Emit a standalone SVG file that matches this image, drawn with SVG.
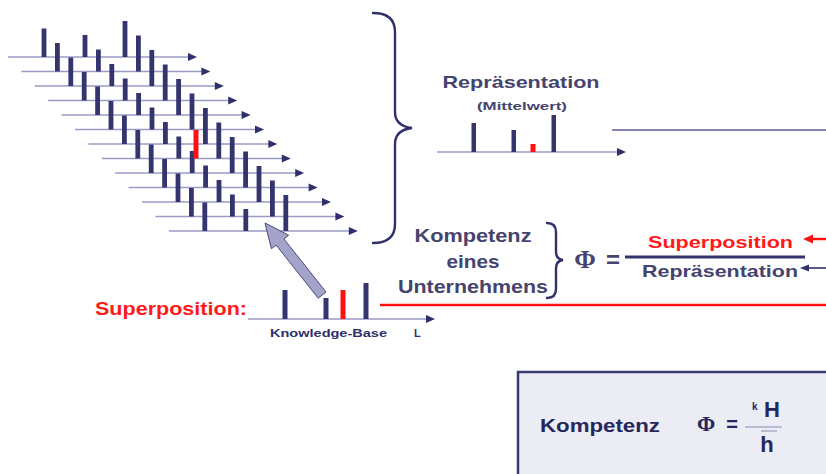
<svg xmlns="http://www.w3.org/2000/svg" xmlns:xlink="http://www.w3.org/1999/xlink" width="826" height="474" viewBox="0 0 826 474">
<style>
  text { font-family: "Liberation Sans", Arial, sans-serif; }
  .phi { font-family: "Liberation Serif", "Times New Roman", serif; }
  .axis { stroke: #9a9ac6; stroke-width: 1.6; fill: none; }
  .head { fill: #2f2f6c; }
  .bar { fill: #34346e; }
  .red { fill: #ff1010; }
  .brace { fill: none; stroke: #30306c; stroke-width: 2.4; stroke-linecap: round; }
  .lbl { fill: #44446e; font-weight: bold; }
  .rtxt { fill: #ff1a1a; font-weight: bold; }
  .navy { fill: #26265e; font-weight: bold; }
</style>
<defs>
  <g id="row">
    <line class="axis" x1="8" y1="57" x2="190" y2="57"/>
    <polygon class="head" points="188,53 197,57 188,61"/>
    <rect class="bar" x="41.6" y="28.5" width="4.8" height="28.5"/>
    <rect class="bar" x="82.6" y="35" width="4.8" height="22"/>
    <rect class="bar" x="122.6" y="21" width="4.8" height="36"/>
  </g>
</defs>

<g id="stack">
  <use xlink:href="#row" href="#row"/>
  <use xlink:href="#row" href="#row" transform="translate(13.4,14.5)"/>
  <use xlink:href="#row" href="#row" transform="translate(26.8,29)"/>
  <use xlink:href="#row" href="#row" transform="translate(40.2,43.5)"/>
  <use xlink:href="#row" href="#row" transform="translate(53.6,58)"/>
  <use xlink:href="#row" href="#row" transform="translate(67,72.5)"/>
  <use xlink:href="#row" href="#row" transform="translate(80.4,87)"/>
  <use xlink:href="#row" href="#row" transform="translate(93.8,101.5)"/>
  <use xlink:href="#row" href="#row" transform="translate(107.2,116)"/>
  <use xlink:href="#row" href="#row" transform="translate(120.6,130.5)"/>
  <use xlink:href="#row" href="#row" transform="translate(134,145)"/>
  <use xlink:href="#row" href="#row" transform="translate(147.4,159.5)"/>
  <use xlink:href="#row" href="#row" transform="translate(160.8,174)"/>
  <rect class="red" x="193.5" y="130" width="5" height="28.5"/>
</g>

<g id="big-brace">
  <path class="brace" d="M373,13 Q395,13 395,32 L395,112 Q395,126 412,128 Q395,130 395,144 L395,224 Q395,243 373,243"/>
</g>

<g id="representation">
  <text class="lbl" x="521" y="88" font-size="17" text-anchor="middle" textLength="157" lengthAdjust="spacingAndGlyphs">Repräsentation</text>
  <text class="lbl" x="522" y="110" font-size="11" text-anchor="middle" textLength="90" lengthAdjust="spacingAndGlyphs">(Mittelwert)</text>
  <line class="axis" x1="437" y1="152" x2="619" y2="152"/>
  <polygon class="head" points="617,148 626,152 617,156"/>
  <rect class="bar" x="471.5" y="123" width="4.5" height="29"/>
  <rect class="bar" x="511.5" y="130" width="4.5" height="22"/>
  <rect class="red" x="530.5" y="144" width="5" height="8"/>
  <rect class="bar" x="551.5" y="115" width="4.5" height="37"/>
</g>

<g id="knowledge-base">
  <text class="rtxt" x="95" y="315" font-size="19" textLength="152" lengthAdjust="spacingAndGlyphs">Superposition:</text>
  <line class="axis" x1="248" y1="319" x2="428" y2="319"/>
  <polygon class="head" points="426,315 435,319 426,323"/>
  <rect class="bar" x="282.5" y="290" width="5" height="29"/>
  <rect class="bar" x="323.5" y="298" width="5" height="21"/>
  <rect class="red" x="340.5" y="290" width="5" height="29"/>
  <rect class="bar" x="363.5" y="283" width="5" height="36"/>
  <text fill="#2e2e6a" font-weight="bold" x="270" y="337" font-size="11" textLength="117" lengthAdjust="spacingAndGlyphs">Knowledge-Base</text>
  <text fill="#2e2e6a" font-weight="bold" x="414" y="337" font-size="11">L</text>
</g>

<g id="kompetenz">
  <text class="lbl" x="473" y="242" font-size="18" text-anchor="middle" textLength="117" lengthAdjust="spacingAndGlyphs">Kompetenz</text>
  <text class="lbl" x="473" y="268" font-size="18" text-anchor="middle" textLength="53" lengthAdjust="spacingAndGlyphs">eines</text>
  <text class="lbl" x="473" y="293" font-size="18" text-anchor="middle" textLength="150" lengthAdjust="spacingAndGlyphs">Unternehmens</text>
  <path class="brace" stroke-width="2" d="M547,223 Q556,223 556,232 L556,252 Q556,259 563,260 Q556,261 556,268 L556,289 Q556,298 547,298"/>
</g>

<g id="formula">
  <text class="lbl phi" x="585" y="268" font-size="26" text-anchor="middle">Φ</text>
  <text class="lbl" x="613" y="268" font-size="24" text-anchor="middle">=</text>
  <line x1="625" y1="257" x2="805" y2="257" stroke="#33336a" stroke-width="3"/>
  <text class="rtxt" x="648" y="248" font-size="17" textLength="145" lengthAdjust="spacingAndGlyphs">Superposition</text>
  <text class="lbl" x="642" y="277" font-size="17" textLength="156" lengthAdjust="spacingAndGlyphs">Repräsentation</text>
</g>

<g id="connectors">
  <polygon points="265,223 288.6,235.2 283.9,238.9 326,292 318.2,298.2 276.1,245.1 271.4,248.8" fill="#a4a4cb" stroke="#4a4a7c" stroke-width="1"/>
  <line x1="612" y1="130" x2="826" y2="130" stroke="#8585b4" stroke-width="2"/>
  <line x1="380" y1="305" x2="826" y2="305" stroke="#ff1010" stroke-width="2.5"/>
  <line x1="812" y1="239" x2="826" y2="239" stroke="#ff1010" stroke-width="2.5"/>
  <polygon points="813,234.5 803,239 813,243.5" fill="#ff1010"/>
  <line x1="808" y1="268" x2="826" y2="268" stroke="#33336a" stroke-width="1.6"/>
  <polygon points="809,264.5 800,268 809,271.5" fill="#33336a"/>
</g>

<g id="definition-box">
  <rect x="518" y="372" width="330" height="120" fill="#ececf4" stroke="#3a3a72" stroke-width="2.5"/>
  <text class="navy" x="540" y="432" font-size="19" textLength="120" lengthAdjust="spacingAndGlyphs">Kompetenz</text>
  <text class="navy phi" x="706" y="431" font-size="22" text-anchor="middle">Φ</text>
  <text class="navy" x="732" y="431" font-size="20" text-anchor="middle">=</text>
  <text class="navy" x="752" y="410" font-size="10">k</text>
  <text class="navy" x="772" y="417" font-size="22" text-anchor="middle">H</text>
  <line x1="745" y1="427" x2="782" y2="427" stroke="#8a8ab2" stroke-width="1"/>
  <line x1="761" y1="431" x2="777" y2="431" stroke="#8a8ab2" stroke-width="1"/>
  <text class="navy" x="767" y="452" font-size="22" text-anchor="middle">h</text>
</g>
</svg>
